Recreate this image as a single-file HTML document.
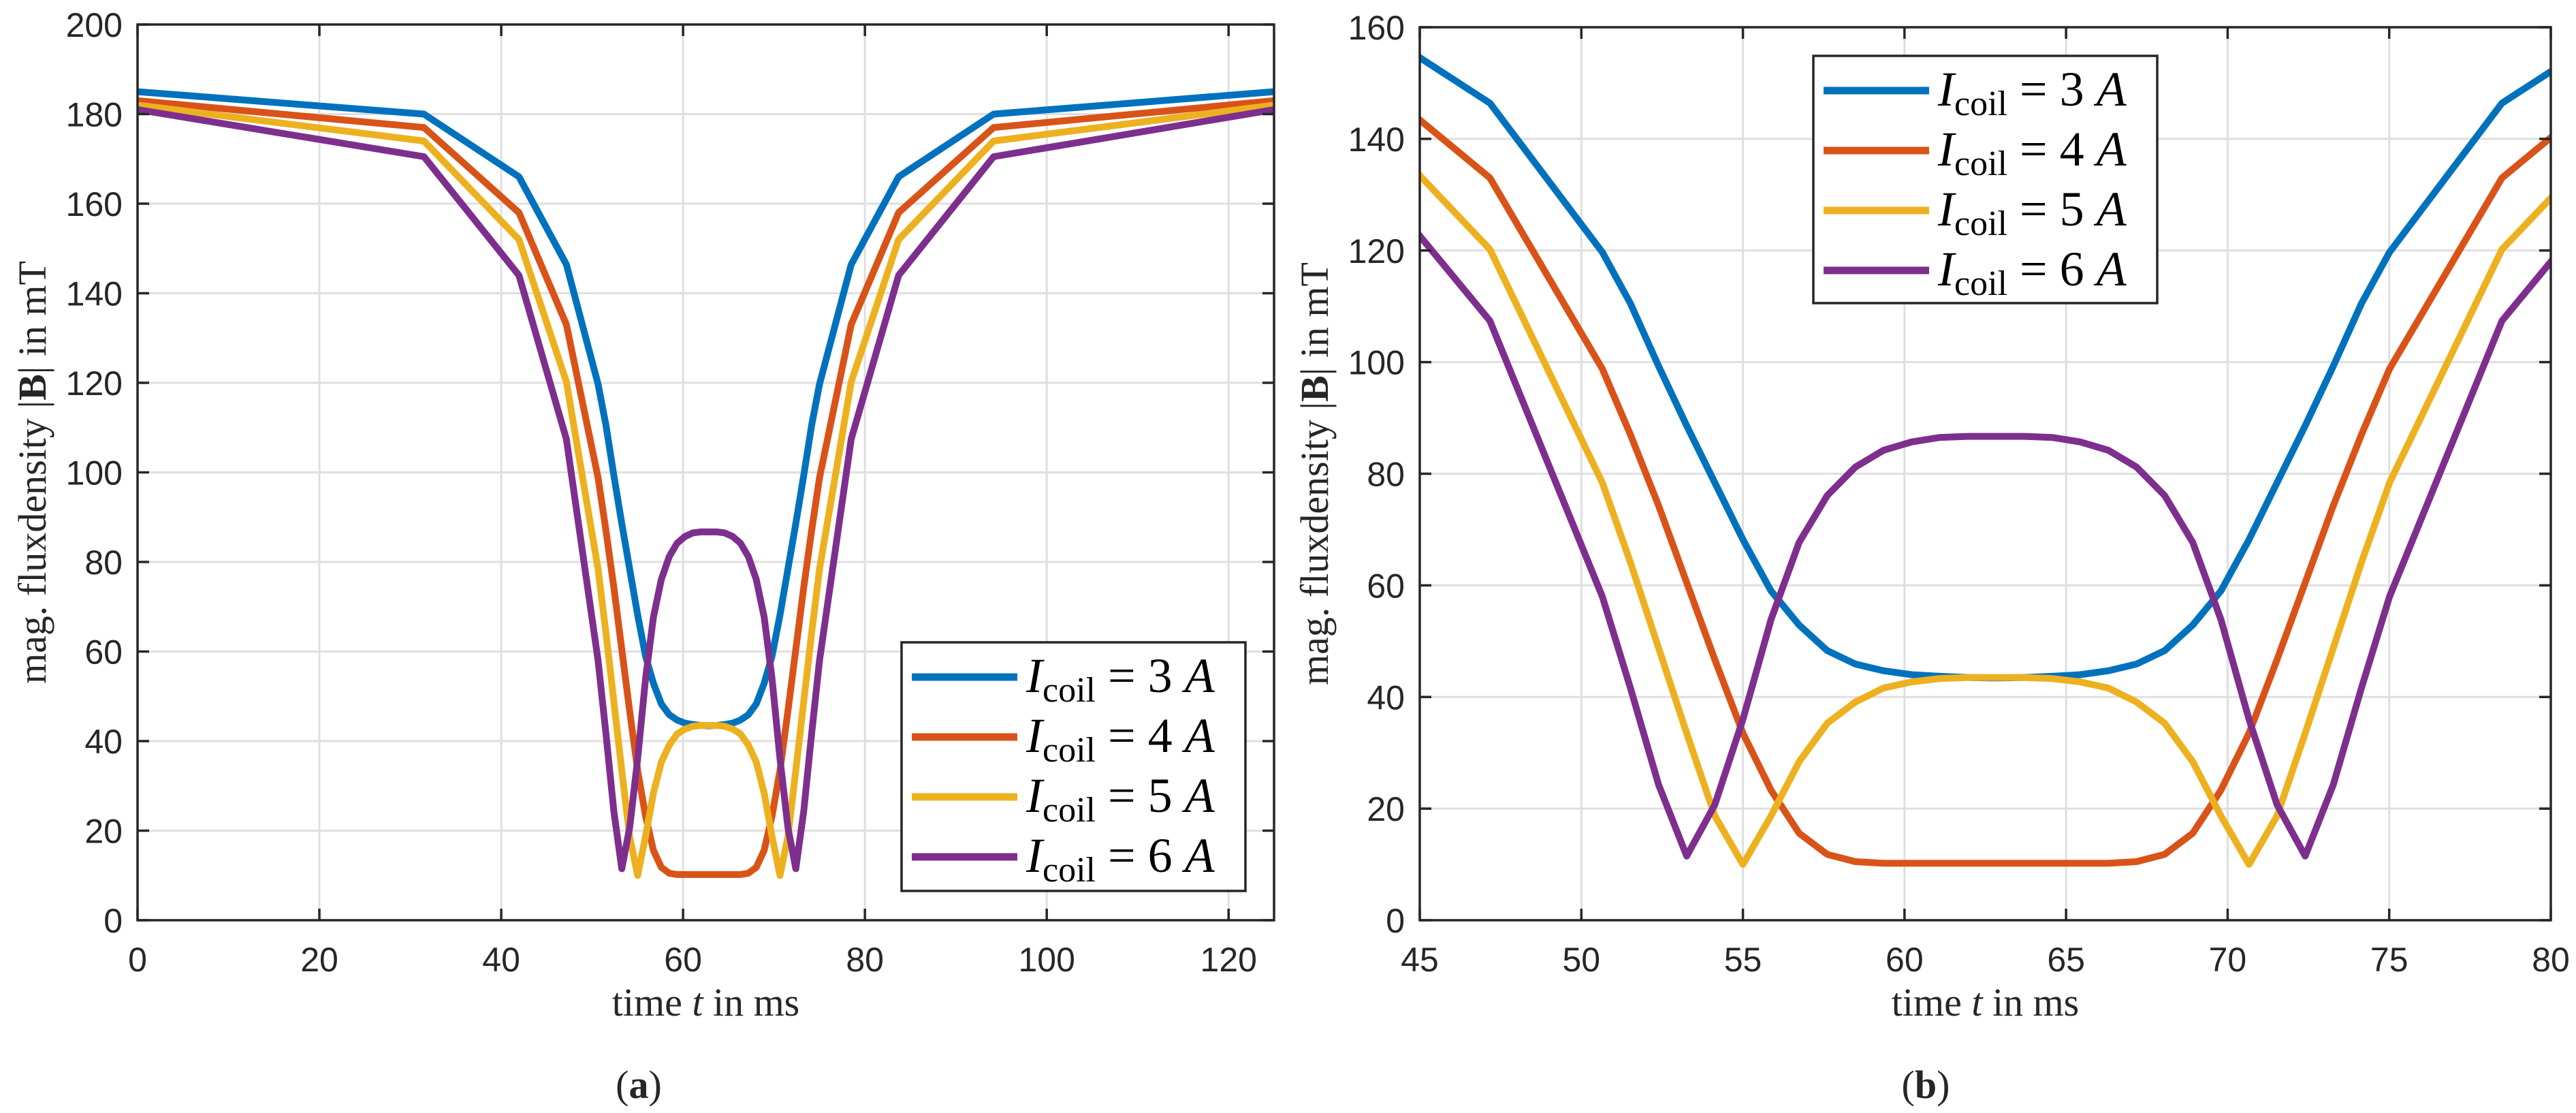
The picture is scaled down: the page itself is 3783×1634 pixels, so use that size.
<!DOCTYPE html>
<html><head><meta charset="utf-8">
<style>
html,body{margin:0;padding:0;background:#fff;}
svg{display:block;}
.tick{font-family:"Liberation Sans",sans-serif;font-size:50px;fill:#262626;}
.lab{font-family:"Liberation Serif",serif;font-size:58px;fill:#262626;}
.leg{font-family:"Liberation Serif",serif;font-size:72px;fill:#000;}
</style></head>
<body>
<svg id="fig" width="3783" height="1634" viewBox="0 0 3783 1634" xmlns="http://www.w3.org/2000/svg"></svg>
<script>
const times = [0,31.5,41.95,47.17,50.65,51.52,52.39,53.26,54.13,55.0,55.87,56.74,57.61,58.48,59.35,60.22,61.09,61.96,62.83,63.70,64.57,65.44,66.31,67.18,68.05,68.92,69.79,70.66,71.53,72.40,73.27,74.14,75.01,78.49,83.71,94.16,125];
const blue3A = [185,180,166,146.4,119.7,110.5,99.3,88.6,78.4,68.2,59,52.9,48.3,45.9,44.7,44,43.7,43.5,43.4,43.5,43.7,44,44.7,45.9,48.3,52.9,59,68.2,78.4,88.6,99.3,110.5,119.7,146.4,166,180,185];
const orange4A = [183,177,158,133,98.8,87,74.3,60.5,46.7,33.5,23.3,15.6,11.8,10.5,10.2,10.2,10.2,10.2,10.2,10.2,10.2,10.2,10.2,10.5,11.8,15.6,23.3,33.5,46.7,60.5,74.3,87,98.8,133,158,177,183];
const yellow5A = [182,174,152,120.2,78.4,64.1,48.8,33.5,18.7,10,18.7,28.4,35.3,39.1,41.6,42.7,43.3,43.5,43.5,43.5,43.3,42.7,41.6,39.1,35.3,28.4,18.7,10,18.7,33.5,48.8,64.1,78.4,120.2,152,174,182];
const purple6A = [181,170.5,144,107.4,58,41.6,24.3,11.5,20.7,36,53.9,67.7,76.1,81.2,84.2,85.7,86.5,86.7,86.7,86.7,86.5,85.7,84.2,81.2,76.1,67.7,53.9,36,20.7,11.5,24.3,41.6,58,107.4,144,170.5,181];
const seriesLabels = ["3","4","5","6"];
const xTicksA = [0,20,40,60,80,100,120];
const yTicksA = [0,20,40,60,80,100,120,140,160,180,200];
const xTicksB = [45,50,55,60,65,70,75,80];
const yTicksB = [0,20,40,60,80,100,120,140,160];

const colors = ["#0072BD","#D95319","#EDB120","#7E2F8E"];
const allSeries = [blue3A,orange4A,yellow5A,purple6A];
const NS = "http://www.w3.org/2000/svg";
const svg = document.getElementById('fig');
function mk(tag, attrs, parent){const e=document.createElementNS(NS,tag);for(const k in attrs)e.setAttribute(k,attrs[k]);(parent||svg).appendChild(e);return e;}

function drawPanel(p){
  const g = mk('g',{});
  
  
  const sx = v => p.x0 + (v-p.xmin)/(p.xmax-p.xmin)*(p.x1-p.x0);
  const sy = v => p.y1 - (v-p.ymin)/(p.ymax-p.ymin)*(p.y1-p.y0);
  // grid
  p.xt.forEach(v=>{const l=mk('line',{x1:sx(v),x2:sx(v),y1:p.y0,y2:p.y1,stroke:'#dfdfdf','stroke-width':3},g);
    
    });
  p.yt.forEach(v=>{const l=mk('line',{x1:p.x0,x2:p.x1,y1:sy(v),y2:sy(v),stroke:'#dfdfdf','stroke-width':3},g);
    
    });
  // series
  const cid = 'clip'+p.name;
  const cp = mk('clipPath',{id:cid},g); mk('rect',{x:p.x0,y:p.y0,width:p.x1-p.x0,height:p.y1-p.y0},cp);
  allSeries.forEach((s,i)=>{
    const d = times.map((t,j)=>(j?'L':'M')+sx(t).toFixed(1)+' '+sy(s[j]).toFixed(1)).join(' ');
    const path = mk('path',{d:d,fill:'none',stroke:colors[i],'stroke-width':10,'stroke-linejoin':'round','clip-path':'url(#'+cid+')'},g);
    
    
  });
  // axes box
  const box = mk('rect',{x:p.x0,y:p.y0,width:p.x1-p.x0,height:p.y1-p.y0,fill:'none',stroke:'#262626','stroke-width':3.5},g);
  
  
  // ticks
  p.xt.forEach(v=>{
    mk('line',{x1:sx(v),x2:sx(v),y1:p.y1,y2:p.y1-17,stroke:'#262626','stroke-width':3.5},g);
    mk('line',{x1:sx(v),x2:sx(v),y1:p.y0,y2:p.y0+17,stroke:'#262626','stroke-width':3.5},g);
    const t = mk('text',{x:sx(v),y:p.y1+75,'text-anchor':'middle',class:'tick'},g); t.textContent=v;
    
    
  });
  p.yt.forEach(v=>{
    mk('line',{x1:p.x0,x2:p.x0+17,y1:sy(v),y2:sy(v),stroke:'#262626','stroke-width':3.5},g);
    mk('line',{x1:p.x1,x2:p.x1-17,y1:sy(v),y2:sy(v),stroke:'#262626','stroke-width':3.5},g);
    const t = mk('text',{x:p.x0-22,y:sy(v)+18,'text-anchor':'end',class:'tick'},g); t.textContent=v;
    
    
  });
  // axis labels
  const xl = mk('text',{x:(p.x0+p.x1)/2,y:p.y1+140,'text-anchor':'middle',class:'lab'},g);
  xl.innerHTML = 'time <tspan font-style="italic">t</tspan> in ms';
  
  
  const cy=(p.y0+p.y1)/2, cx=p.x0-135;
  const yl = mk('text',{x:cx,y:cy,'text-anchor':'middle',class:'lab',transform:'rotate(-90 '+cx+' '+cy+')'},g);
  yl.innerHTML = 'mag. fluxdensity |<tspan font-weight="bold">B</tspan>| in mT';
  
  
  // legend
  const lg = mk('g',{},g);
  
  
  mk('rect',{x:p.lx,y:p.ly,width:505,height:p.lh,fill:'#fff',stroke:'#262626','stroke-width':3.5},lg);
  seriesLabels.forEach((lab,i)=>{
    const ry = p.ly + 51 + i*88;
    const e = mk('g',{},lg);
    
    
    mk('line',{x1:p.lx+15,x2:p.lx+170,y1:ry,y2:ry,stroke:colors[i],'stroke-width':11},e);
    const t = mk('text',{x:p.lx+183,y:ry+22,class:'leg'},e);
    t.innerHTML = '<tspan font-style="italic">I</tspan><tspan font-size="52" dy="14">coil</tspan><tspan dy="-14"> = '+lab+' </tspan><tspan font-style="italic">A</tspan>';
  });
  const cap = mk('text',{x:p.capx,y:1612,'text-anchor':'middle',class:'lab','font-size':64},g);
  cap.innerHTML = '(<tspan font-weight="bold">'+p.cap+'</tspan>)';
  
  
}
drawPanel({name:'panel-a',x0:202,x1:1871,y0:36,y1:1351,xmin:0,xmax:125,ymin:0,ymax:200,xt:xTicksA,yt:yTicksA,lx:1324,ly:943,lh:365,capx:938,cap:'a'});
drawPanel({name:'panel-b',x0:2085,x1:3746,y0:40,y1:1351,xmin:45,xmax:80,ymin:0,ymax:160,xt:xTicksB,yt:yTicksB,lx:2663,ly:82,lh:363,capx:2828,cap:'b'});
</script>
</body></html>
